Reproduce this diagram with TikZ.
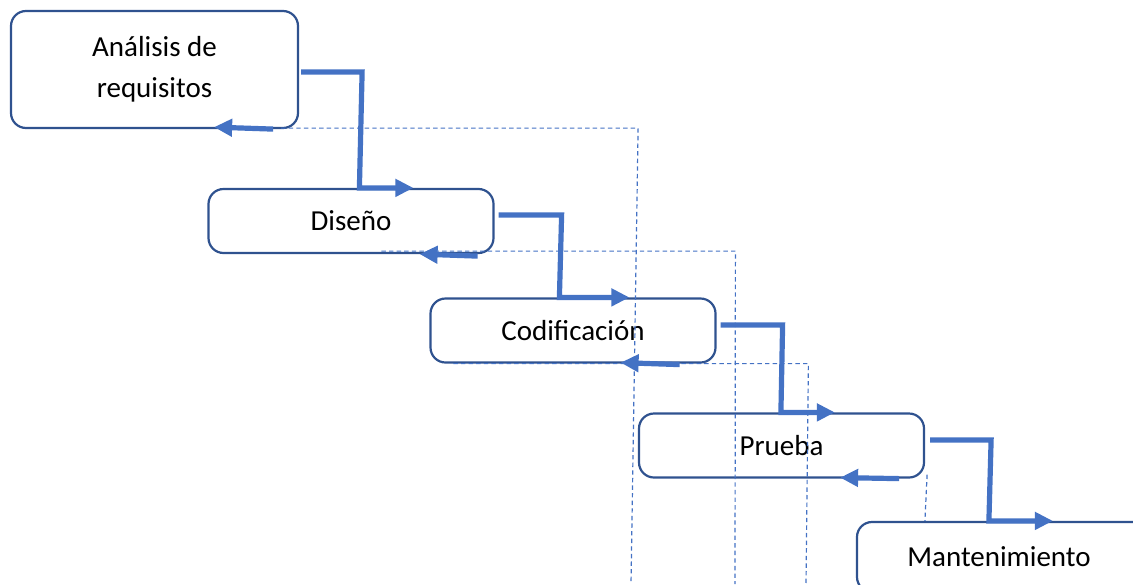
\documentclass[tikz,border=0pt]{standalone}
\usepackage{fontspec}
\setmainfont{Carlito}
\usepackage{xcolor}
\usepackage{tikz}
\usetikzlibrary{arrows.meta}
\usetikzlibrary{calc}
\definecolor{boxblue}{HTML}{2F528F}
\definecolor{lineblue}{HTML}{4472C4}
\tikzset{>={Triangle[length=9pt,width=8.5pt]}}
\tikzset{
  phase/.style={draw=boxblue, line width=1.1pt, rounded corners=7.5pt,
    minimum width=142.5pt, minimum height=32pt, inner sep=0pt, align=center,
    font=\fontsize{14.5}{20.5}\selectfont},
  flow/.style={draw=lineblue, line width=2.6pt, ->},
  link/.style={draw=lineblue, line width=0.6pt, dash pattern=on 2.2pt off 1.6pt},
}

\begin{document}
\begin{tikzpicture}[x=0.5pt, y=-0.5pt]
      \useasboundingbox (0,0) rectangle (1133,584);
      \clip (0,0) rectangle (1133,584);
      % phases
      \node[phase, minimum width=143.5pt, minimum height=58.5pt] (ana) at (154.5,69.5) {Análisis de\\requisitos};
      \node[phase] (dis) at (351,221) {Diseño};
      \node[phase] (cod) at (573,330.5) {Codificación};
      \node[phase] (pru) at (781.5,445.5) {Prueba};
      \node[phase, minimum width=150pt, minimum height=35pt] (man) at (1007,557) {Mantenimiento\hspace*{8pt}};
      \coordinate (ana-drop) at (631,584);
      \coordinate (dis-drop) at (735,584);
      \coordinate (cod-drop) at (806,584);
      % dashed links
      \draw[link] ($(ana.south east)+(-18,-1)$) -- ++(357,0) -- (ana-drop);
      \draw[link] ($(dis.south west)+(174,-3)$) -- ++(354,0) -- (dis-drop);
      \draw[link] ($(cod.south west)+(24,0)$) -- ++(355,0) -- (cod-drop);
      \draw[link] ($(pru.south east)+(2,-4)$) -- ($(man.north west)+(69,0)$);
      % forward steps
      \draw[flow] ($(ana.east)+(2,2.5)$) -- ++(61,0) -- ($(dis.north west)+(152,0)$) -- ++(54,0);
      \draw[flow] ($(dis.east)+(4,-6)$) -- ++(63,0) -- ($(cod.north west)+(130,0)$) -- ++(70,0);
      \draw[flow] ($(cod.east)+(4,-5.5)$) -- ++(62,0) -- ($(pru.north west)+(143,0)$) -- ++(54,0);
      \draw[flow] ($(pru.east)+(5,-5.5)$) -- ++(61,0) -- ($(man.north west)+(133,0)$) -- ++(64,0);
      % feedback
      \draw[flow] ($(ana.south east)+(-26,0)$) -- ++(-59,-2);
      \draw[flow] ($(dis.south east)+(-17,2)$) -- ++(-58,-2);
      \draw[flow] ($(cod.south east)+(-37,1)$) -- ++(-59,-2);
      \draw[flow] ($(pru.south east)+(-26,0)$) -- ++(-59,-1);
\end{tikzpicture}
\end{document}
